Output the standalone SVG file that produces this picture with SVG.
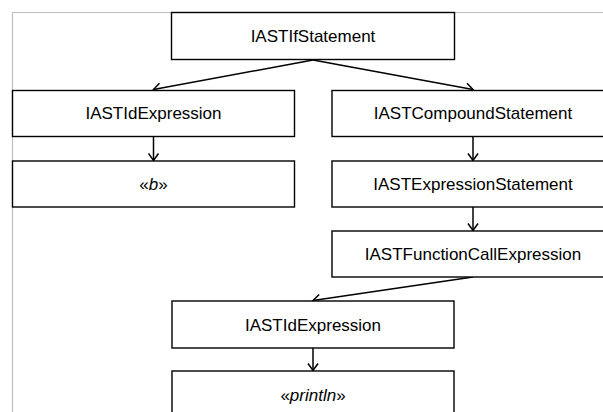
<svg xmlns="http://www.w3.org/2000/svg" width="603" height="412" viewBox="0 0 603 412">
<style>
.box{fill:#fff;stroke:#000;stroke-width:1.4}
.lbl{font-family:"Liberation Sans",Arial,sans-serif;font-size:17px;fill:#000;text-anchor:middle}
.it{font-style:italic}
.edge{fill:none;stroke:#000;stroke-width:1.5}
.frame{fill:none;stroke:#bfbfbf;stroke-width:1.2}
</style>
<defs>
<marker id="arr" markerUnits="userSpaceOnUse" markerWidth="12" markerHeight="12" viewBox="-10 -6 12 12" refX="0" refY="0" orient="auto">
<path d="M-7,-5 L0,0 L-7,5" fill="none" stroke="#000" stroke-width="1.5"/>
</marker>
</defs>
<path class="frame" d="M12.5,412 V12.5 H603"/>
<g id="connectors">
<line class="edge" x1="313" y1="60" x2="153.5" y2="89.5" marker-end="url(#arr)"/>
<line class="edge" x1="313" y1="60" x2="473" y2="89.5" marker-end="url(#arr)"/>
<line class="edge" x1="153.5" y1="137" x2="153.5" y2="160.5" marker-end="url(#arr)"/>
<line class="edge" x1="473" y1="137" x2="473" y2="160.5" marker-end="url(#arr)"/>
<line class="edge" x1="473" y1="207" x2="473" y2="230.5" marker-end="url(#arr)"/>
<line class="edge" x1="473" y1="277" x2="313" y2="300.5" marker-end="url(#arr)"/>
<line class="edge" x1="313" y1="348" x2="313" y2="370.5" marker-end="url(#arr)"/>
</g>
<g id="n_if">
<rect class="box" x="171.5" y="12.5" width="283" height="47"/>
<text class="lbl" x="313" y="42">IASTIfStatement</text>
</g>
<g id="n_id1">
<rect class="box" x="12.5" y="90.5" width="282" height="46"/>
<text class="lbl" x="153.5" y="119">IASTIdExpression</text>
</g>
<g id="n_compound">
<rect class="box" x="332" y="90.5" width="283" height="46"/>
<text class="lbl" x="473" y="119">IASTCompoundStatement</text>
</g>
<g id="n_b">
<rect class="box" x="12.5" y="161" width="282" height="46"/>
<text class="lbl" x="153.5" y="190">«<tspan class="it">b</tspan>»</text>
</g>
<g id="n_exprstmt">
<rect class="box" x="332" y="161" width="283" height="46"/>
<text class="lbl" x="473" y="190">IASTExpressionStatement</text>
</g>
<g id="n_funccall">
<rect class="box" x="332" y="231" width="283" height="46"/>
<text class="lbl" x="473" y="260">IASTFunctionCallExpression</text>
</g>
<g id="n_id2">
<rect class="box" x="172" y="301" width="282" height="47"/>
<text class="lbl" x="313" y="331">IASTIdExpression</text>
</g>
<g id="n_println">
<rect class="box" x="172" y="371" width="282" height="50"/>
<text class="lbl" x="313" y="401">«<tspan class="it">println</tspan>»</text>
</g>
</svg>
